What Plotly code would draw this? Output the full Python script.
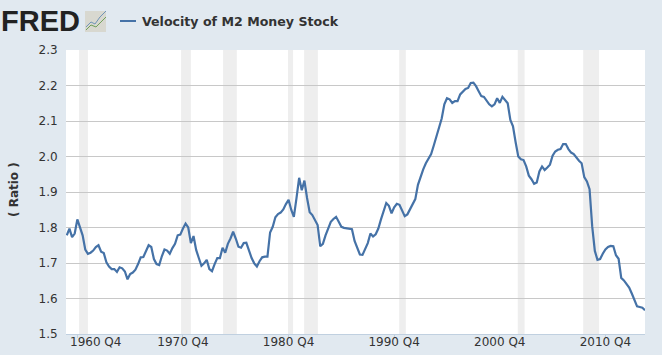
import plotly.graph_objects as go

W, H = 662, 355
L, R, T, B = 66, 17, 50, 21

series_name = "Velocity of M2 Money Stock"
velocity = [
1.778,1.797,1.773,1.783,1.823,1.802,1.778,1.738,1.726,1.729,
1.735,1.745,1.750,1.732,1.728,1.702,1.690,1.683,1.683,1.675,
1.688,1.685,1.676,1.654,1.669,1.673,1.681,1.697,1.716,1.717,
1.735,1.750,1.745,1.711,1.697,1.694,1.719,1.738,1.735,1.726,
1.742,1.754,1.778,1.780,1.797,1.811,1.800,1.756,1.776,1.737,
1.714,1.692,1.699,1.709,1.683,1.677,1.697,1.714,1.714,1.743,
1.729,1.754,1.769,1.788,1.769,1.746,1.743,1.756,1.757,1.732,
1.714,1.699,1.690,1.705,1.716,1.718,1.718,1.786,1.802,1.829,
1.838,1.842,1.851,1.866,1.878,1.850,1.830,1.883,1.940,1.905,
1.932,1.883,1.843,1.835,1.823,1.807,1.747,1.754,1.778,1.800,
1.816,1.824,1.830,1.816,1.802,1.799,1.798,1.797,1.795,1.762,
1.743,1.724,1.723,1.740,1.756,1.783,1.775,1.781,1.797,1.823,
1.848,1.869,1.861,1.840,1.857,1.867,1.864,1.848,1.832,1.837,
1.852,1.866,1.880,1.920,1.944,1.964,1.981,1.993,2.007,2.031,
2.056,2.084,2.107,2.147,2.164,2.161,2.151,2.156,2.156,2.175,
2.182,2.190,2.193,2.207,2.208,2.198,2.184,2.170,2.168,2.156,
2.147,2.141,2.147,2.164,2.151,2.168,2.159,2.150,2.103,2.085,
2.040,2.000,1.992,1.990,1.972,1.946,1.936,1.923,1.927,1.958,
1.972,1.962,1.969,1.977,2.002,2.014,2.019,2.021,2.035,2.035,
2.021,2.011,2.007,1.997,1.988,1.981,1.942,1.930,1.908,1.803,
1.734,1.709,1.711,1.726,1.738,1.745,1.748,1.747,1.722,1.712,
1.658,1.651,1.642,1.631,1.614,1.593,1.578,1.576,1.574,1.567,
]
quarter_index = list(range(len(velocity)))

first_tick_label = "1960 Q4"
tick_quarters = [4, 44, 84, 124, 164, 204]
tick_labels = ["", "1970 Q4", "1980 Q4", "1990 Q4", "2000 Q4", "2010 Q4"]

recession_start = [4.66, 43.3, 59.2, 83.8, 89.9, 125.9, 170.8, 195.6]
recession_end = [8.0, 47.0, 64.4, 85.7, 95.1, 128.4, 173.4, 201.6]

X_MIN, X_MAX = -0.3, 219
Y_MIN, Y_MAX = 1.5, 2.3

def paper_x(x):
    return (x - L) / (W - L - R)

def paper_y(y):
    return 1 - (y - T) / (H - T - B)

fig = go.Figure()
fig.add_trace(go.Scatter(
    x=quarter_index, y=velocity, mode="lines", name=series_name,
    line=dict(color="#4572a7", width=2.2), hoverinfo="skip", showlegend=False,
    cliponaxis=False,
))

shapes = []
for a, b in zip(recession_start, recession_end):
    shapes.append(dict(type="rect", xref="x", yref="paper", x0=a, x1=b, y0=0, y1=1,
                       fillcolor="#eeeeee", line_width=0, layer="below"))

shapes.append(dict(type="line", xref="paper", yref="paper",
                   x0=paper_x(120), x1=paper_x(136), y0=paper_y(21), y1=paper_y(21),
                   line=dict(color="#4572a7", width=2)))

shapes.append(dict(type="rect", xref="paper", yref="paper",
                   x0=paper_x(85), x1=paper_x(106), y0=paper_y(11), y1=paper_y(32),
                   fillcolor="#d8d8d0", line_width=0))
def icon_path(pts):
    return "M" + " L".join(f"{paper_x(a):.4f},{paper_y(b):.4f}" for a, b in pts)
shapes.append(dict(type="path", xref="paper", yref="paper",
                   path=icon_path([(86, 27), (91, 22), (95, 24), (100, 17), (106, 11)]),
                   line=dict(color="#6f93b8", width=1)))
shapes.append(dict(type="path", xref="paper", yref="paper",
                   path=icon_path([(86, 30), (91, 25), (96, 27), (101, 22), (106, 17)]),
                   line=dict(color="#6fa05a", width=1)))

annotations = [
    dict(text="<b>FRED</b>", xref="paper", yref="paper", x=paper_x(-1), y=paper_y(21),
         xanchor="left", yanchor="middle", showarrow=False,
         font=dict(family="Liberation Sans", size=29, color="#222222")),
    dict(text=f"<b>{series_name}</b>", xref="paper", yref="paper", x=paper_x(140), y=paper_y(21),
         xanchor="left", yanchor="middle", showarrow=False,
         font=dict(family="DejaVu Sans", size=12.6, color="#333333")),
    dict(text="<b>( Ratio )</b>", xref="paper", yref="paper", x=paper_x(14), y=paper_y(190),
         xanchor="center", yanchor="middle", showarrow=False, textangle=-90,
         font=dict(family="DejaVu Sans", size=12, color="#333333")),
    dict(text=first_tick_label, xref="paper", yref="paper", x=paper_x(95.4), y=paper_y(342),
         xanchor="center", yanchor="middle", showarrow=False,
         font=dict(family="DejaVu Sans", size=12, color="#333333")),
]

fig.update_layout(
    width=W, height=H,
    margin=dict(l=L, r=R, t=T, b=B, pad=0, autoexpand=False),
    paper_bgcolor="#e1e9f0", plot_bgcolor="#ffffff",
    shapes=shapes, annotations=annotations, showlegend=False,
    font=dict(family="DejaVu Sans", size=12, color="#333333"),
    xaxis=dict(range=[X_MIN, X_MAX], tickmode="array", tickvals=tick_quarters, ticktext=tick_labels,
               automargin=False, ticklabelstandoff=-6,
               showgrid=False, zeroline=False, showline=True, linecolor="#c0d0e0", linewidth=1,
               ticks="outside", ticklen=3, tickcolor="#c0d0e0", tickwidth=1,
               tickfont=dict(family="DejaVu Sans", size=12, color="#333333")),
    yaxis=dict(range=[Y_MIN, Y_MAX], tick0=1.5, dtick=0.1, tickformat=".1f",
               automargin=False,
               showgrid=True, gridcolor="#c8c8c8", gridwidth=1, zeroline=False,
               showline=False, ticks="outside", ticklen=5, tickcolor="rgba(0,0,0,0)",
               tickfont=dict(family="DejaVu Sans", size=12, color="#333333")),
)

fig.write_html("out.html", config=dict(displayModeBar=False),
               post_script="document.body.style.margin='0';document.body.style.background='#e1e9f0';")
